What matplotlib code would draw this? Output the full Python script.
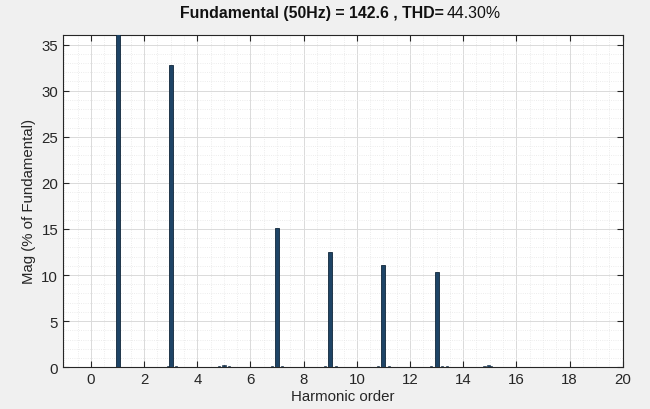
import matplotlib as mpl
from matplotlib import pyplot as plt
from matplotlib.ticker import MultipleLocator

plt.rcParams['font.family'] = ['Liberation Sans', 'DejaVu Sans']

# harmonic spectrum (% of fundamental)
orders = [1, 3, 7, 9, 11, 13]
mags = [100, 32.8, 15.1, 12.55, 11.1, 10.3]

# small interharmonic bins near the base
small_orders = [2.9, 3.2, 4.8, 4.95, 5.05, 5.2, 6.8, 7.2, 8.8, 9.2, 10.8, 11.2, 12.8, 13.2, 13.4, 14.8, 14.95, 15.05]
small_mags = [0.12, 0.15, 0.1, 0.22, 0.22, 0.12, 0.1, 0.12, 0.08, 0.1, 0.1, 0.08, 0.1, 0.15, 0.08, 0.1, 0.2, 0.15]

fundamental = 142.6
thd = 44.30

fig = plt.figure(figsize=(6.5, 4.1), dpi=100, facecolor='#f0f0f0')
ax = fig.add_axes([0.097, 0.102, 0.861, 0.811])

bar_col = '#1e4466'
ax.bar(orders, mags, width=0.15, color=bar_col, edgecolor='#10263a', linewidth=0.6, zorder=3)
ax.bar(small_orders, small_mags, width=0.08, color=bar_col, edgecolor='#10263a', linewidth=0.4, zorder=3)

ax.set_xlim(-1.05, 20)
ax.set_ylim(0, max(mags[1:]) * 1.1)
ax.xaxis.set_major_locator(MultipleLocator(2))
ax.xaxis.set_minor_locator(MultipleLocator(0.5))
ax.yaxis.set_major_locator(MultipleLocator(5))
ax.yaxis.set_minor_locator(MultipleLocator(1))

ax.grid(which='major', color='#dadada', linewidth=0.7, zorder=0)
ax.grid(which='minor', color='#e6e6e6', linewidth=0.6, linestyle=':', zorder=0)
ax.set_axisbelow(True)

ax.tick_params(which='both', direction='in', top=True, right=True, labelsize=10.8, colors='#262626')
ax.tick_params(which='minor', length=0)
ax.tick_params(which='major', length=4)
for s in ax.spines.values():
    s.set_color('#262626')
    s.set_linewidth(0.8)

ax.set_xlabel('Harmonic order', fontsize=10.8, color='#262626', labelpad=2)
ax.set_ylabel('Mag (% of Fundamental)', fontsize=10.8, color='#262626', labelpad=4)

fig.text(0.683, 0.966, 'Fundamental (50Hz) = %.1f , THD=' % fundamental, ha='right', va='center',
         fontsize=11.4, fontweight='bold', color='#111111')
fig.text(0.687, 0.966, '%.2f%%' % thd, ha='left', va='center', fontsize=11.4, color='#111111')

fig.savefig('out.png', dpi=100, facecolor=fig.get_facecolor())
